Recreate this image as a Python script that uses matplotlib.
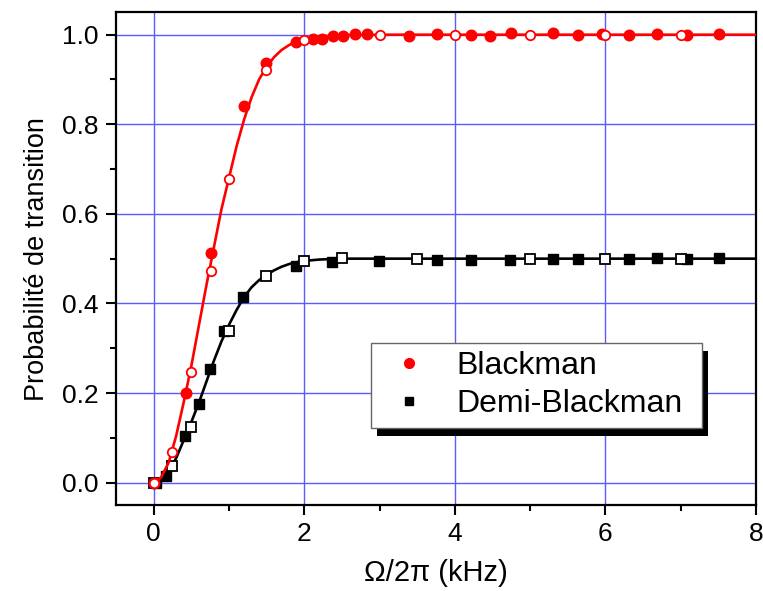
import matplotlib
matplotlib.use("Agg")
import matplotlib.pyplot as plt
from matplotlib.patches import Rectangle
from matplotlib.ticker import MultipleLocator
from matplotlib.lines import Line2D

plt.rcParams['font.family'] = ['Liberation Sans', 'DejaVu Sans']

# --- Data ---
# Theory curves
curve_x = [0.0, 0.1, 0.2, 0.3, 0.4, 0.5, 0.6, 0.7, 0.8, 0.9, 1.0, 1.1, 1.2, 1.3,
           1.4, 1.5, 1.6, 1.7, 1.8, 1.9, 2.0, 2.2, 2.5, 3.0, 8.0]
bl_curve_y = [0.0, 0.012, 0.045, 0.105, 0.18, 0.26, 0.35, 0.44, 0.525, 0.61, 0.68,
              0.75, 0.81, 0.86, 0.9, 0.928, 0.95, 0.966, 0.977, 0.985, 0.99, 0.996,
              0.999, 1.0, 1.0]
dbl_curve_y = [0.0, 0.006, 0.025, 0.055, 0.095, 0.135, 0.178, 0.225, 0.272, 0.315,
               0.352, 0.385, 0.414, 0.436, 0.452, 0.464, 0.474, 0.482, 0.488, 0.492,
               0.495, 0.498, 0.5, 0.5, 0.5]

# Blackman: filled points (measurements)
bl_fill_x = [0.01, 0.43, 0.76, 1.2, 1.49, 1.89, 2.11, 2.24, 2.38, 2.52, 2.68, 2.84,
             3.39, 3.76, 4.22, 4.47, 4.74, 5.31, 5.63, 5.96, 6.31, 6.68, 7.09, 7.51]
bl_fill_y = [0.0, 0.2, 0.513, 0.841, 0.9375, 0.983, 0.99, 0.991, 0.998, 0.997, 1.002,
             1.002, 0.998, 1.002, 1.0, 0.998, 1.003, 1.003, 0.999, 1.002, 1.0, 1.002,
             1.0, 1.002]
# Blackman: open points
bl_open_x = [0.0, 0.24, 0.49, 0.76, 1.0, 1.49, 2.0, 3.0, 4.0, 5.0, 6.0, 7.0]
bl_open_y = [0.0, 0.069, 0.246, 0.472, 0.677, 0.921, 0.988, 1.0, 1.0, 1.0, 1.0, 1.0]

# Demi-Blackman: filled points
dbl_fill_x = [0.03, 0.17, 0.42, 0.6, 0.75, 0.93, 1.19, 1.89, 2.37, 2.99, 3.76, 4.22,
              4.73, 5.31, 5.63, 6.31, 6.68, 7.09, 7.51]
dbl_fill_y = [0.0, 0.015, 0.104, 0.175, 0.253, 0.339, 0.414, 0.484, 0.493, 0.495,
              0.497, 0.497, 0.496, 0.499, 0.499, 0.499, 0.501, 0.499, 0.501]
# Demi-Blackman: open points
dbl_open_x = [0.0, 0.24, 0.49, 1.0, 1.49, 2.0, 2.5, 3.5, 5.0, 6.0, 7.0]
dbl_open_y = [0.0, 0.036, 0.125, 0.339, 0.461, 0.495, 0.501, 0.5, 0.5, 0.5, 0.5]

labels = ["Blackman", "Demi-Blackman"]
x_ticks = [0, 2, 4, 6, 8]
y_ticks = [0.0, 0.2, 0.4, 0.6, 0.8, 1.0]

RED = '#ff0000'
BLK = '#000000'

fig = plt.figure(figsize=(7.63, 5.91), dpi=100)
ax = fig.add_axes([116/763, 86/591, 640/763, 492.7/591])

ax.set_xlim(-0.5, 8)
ax.set_ylim(-0.05, 1.05)

ax.grid(True, which='major', color='#5a5aff', linewidth=1.0, zorder=0)
ax.set_axisbelow(True)

ax.plot(curve_x, dbl_curve_y, color=BLK, lw=1.9, zorder=2)
ax.plot(dbl_fill_x, dbl_fill_y, ls='none', marker='s', ms=7.0, mfc=BLK, mec=BLK, zorder=3)
ax.plot(dbl_open_x, dbl_open_y, ls='none', marker='s', ms=6.6, mfc='white', mec=BLK,
        mew=1.3, zorder=4)

ax.plot(curve_x, bl_curve_y, color=RED, lw=1.9, zorder=5)
ax.plot(bl_fill_x, bl_fill_y, ls='none', marker='o', ms=7.6, mfc=RED, mec=RED, zorder=6)
ax.plot(bl_open_x, bl_open_y, ls='none', marker='o', ms=6.8, mfc='white', mec=RED,
        mew=1.3, zorder=7)

ax.set_xticks(x_ticks)
ax.set_yticks(y_ticks)
ax.set_xticklabels([str(v) for v in x_ticks])
ax.set_yticklabels([f"{v:.1f}" for v in y_ticks])
ax.xaxis.set_minor_locator(MultipleLocator(1))
ax.yaxis.set_minor_locator(MultipleLocator(0.1))
ax.tick_params(which='major', direction='out', length=7.5, width=1.5,
               labelsize=19, pad=5, top=False, right=False)
ax.tick_params(which='minor', direction='out', length=4, width=1.5,
               top=False, right=False)
for s in ax.spines.values():
    s.set_linewidth(1.6)

ax.set_xlabel("Ω/2π (kHz)", fontsize=21, labelpad=9)
ax.set_ylabel("Probabilité de transition", fontsize=19.5, labelpad=9)

handles = [Line2D([], [], ls='none', marker='o', ms=7, mfc=RED, mec=RED),
           Line2D([], [], ls='none', marker='s', ms=6, mfc=BLK, mec=BLK)]
x0 = (370.7 - 116) / 640
top = (505 - 342.7) / 492.7
w = (701.7 - 370.7) / 640
leg = ax.legend(handles, labels, loc='upper left', bbox_to_anchor=(x0, top - 0.2, w, 0.2),
                mode='expand', borderaxespad=0, fontsize=23, frameon=True,
                fancybox=False, framealpha=1, edgecolor='#666666',
                borderpad=0.27, handlelength=1.85, handletextpad=0.55,
                labelspacing=0.24)
leg.get_frame().set_linewidth(1.0)
leg.set_zorder(10)

fig.canvas.draw()
bb = leg.get_window_extent()
inv = fig.transFigure.inverted()
(fx0, fy0), (fx1, fy1) = inv.transform([(bb.x0 + 6, bb.y0 - 8), (bb.x1 + 6, bb.y1 - 8)])
shadow = Rectangle((fx0, fy0), fx1 - fx0, fy1 - fy0, transform=fig.transFigure,
                   facecolor='black', edgecolor='none', zorder=9)
ax.add_artist(shadow)
shadow.set_transform(fig.transFigure)
shadow.set_clip_on(False)

fig.savefig("out.png", dpi=100)
